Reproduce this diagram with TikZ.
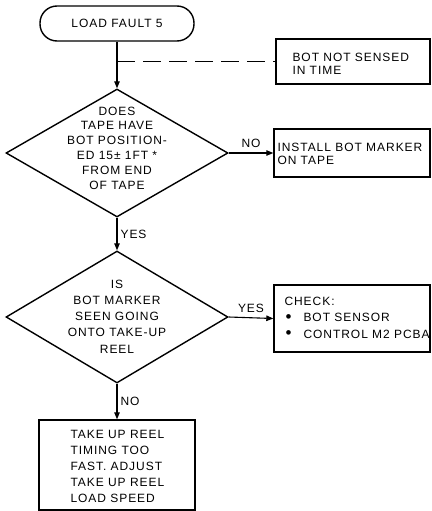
\documentclass[tikz,border=0pt]{standalone}
\usepackage{fontspec}
\setmainfont{Liberation Sans}[LetterSpace=8]
\usetikzlibrary{shapes.geometric,arrows.meta,calc}

\newcommand{\chkbullet}{\makebox[18pt][l]{\raisebox{-0.5pt}{\fontsize{17}{17}\selectfont\char"2022}}}

\begin{document}
\begin{tikzpicture}[x=1pt,y=-1pt,
  every node/.style={font=\fontsize{12}{14}\selectfont},
  shape line/.style={draw,line width=1.4pt},
  terminal/.style={shape line,rounded corners=17pt,minimum width=154pt,minimum height=35pt,inner sep=0pt},
  decision/.style={shape line,diamond,inner sep=0pt},
  dtext/.style={align=center,inner sep=0pt},
  process/.style={shape line,inner sep=0pt},
  ptext/.style={align=left,inner sep=0pt,anchor=west},
  flow/.style={line width=1.1pt,-{Triangle[length=7pt,width=5.5pt]}},
  dashline/.style={line width=1.1pt,dash pattern=on 18pt off 8pt},
  lbl/.style={inner sep=0pt}
]
\useasboundingbox (0,0) rectangle (431,511);

% start terminal
\node[terminal] (term) at (117,23.5) {LOAD FAULT 5};

% first decision
\node[decision,minimum width=222pt,minimum height=128pt] (d1) at (117,153) {};
\node[dtext,font=\fontsize{12}{14.8}\selectfont] (d1t) at (117,148)
  {DOES\\TAPE HAVE\\BOT POSITION-\\ED 15\char"00B1\ 1FT *\\FROM END\\OF TAPE};

% second decision
\node[decision,minimum width=222pt,minimum height=132pt] (d2) at (117,317) {};
\node[dtext,font=\fontsize{12}{16.2}\selectfont] (d2t) at (117,316.5)
  {IS\\BOT MARKER\\SEEN GOING\\ONTO TAKE-UP\\REEL};

% side boxes
\node[process,minimum width=154pt,minimum height=45pt] (ns) at (353,61.5) {};
\node[ptext,font=\fontsize{12}{13}\selectfont] (nst) at ($(ns.west)+(17,2)$)
  {BOT NOT SENSED\\IN TIME};

\node[process,minimum width=156pt,minimum height=48pt] (inst) at (352,153) {};
\node[ptext,font=\fontsize{12}{13}\selectfont] (instt) at ($(inst.west)+(4,0.5)$)
  {INSTALL BOT MARKER\\ON TAPE};

\node[process,minimum width=156pt,minimum height=67pt] (chk) at (352,318.5) {};
\node[ptext,font=\fontsize{12}{16.5}\selectfont] (chkt) at ($(chk.west)+(11,-0.8)$)
  {CHECK:\\\hspace*{1pt}\chkbullet BOT SENSOR\\\hspace*{1pt}\chkbullet CONTROL M2 PCBA};

% final action
\node[process,minimum width=156pt,minimum height=90pt] (adj) at (117,465) {};
\node[ptext,font=\fontsize{12}{15.8}\selectfont] (adjt) at ($(adj.west)+(32,1.5)$)
  {TAKE UP REEL\\TIMING TOO\\FAST. ADJUST\\TAKE UP REEL\\LOAD SPEED};

% connectors
\draw[flow] (term.south) -- (d1.north);
\coordinate (j) at (term.south |- ns.west);
\draw[dashline] (j) -- (ns.west);

\draw[flow] (d1.east) -- node[lbl,above=5pt] (lno1) {NO} (inst.west);
\draw[flow] (d1.south) -- node[lbl,right=3pt] (lyes1) {YES} (d2.north);
\draw[flow] (d2.east) -- node[lbl,above=5pt] (lyes2) {YES} (chk.west);
\draw[flow] (d2.south) -- node[lbl,right=3pt] (lno2) {NO} (adj.north);
\end{tikzpicture}
\end{document}
